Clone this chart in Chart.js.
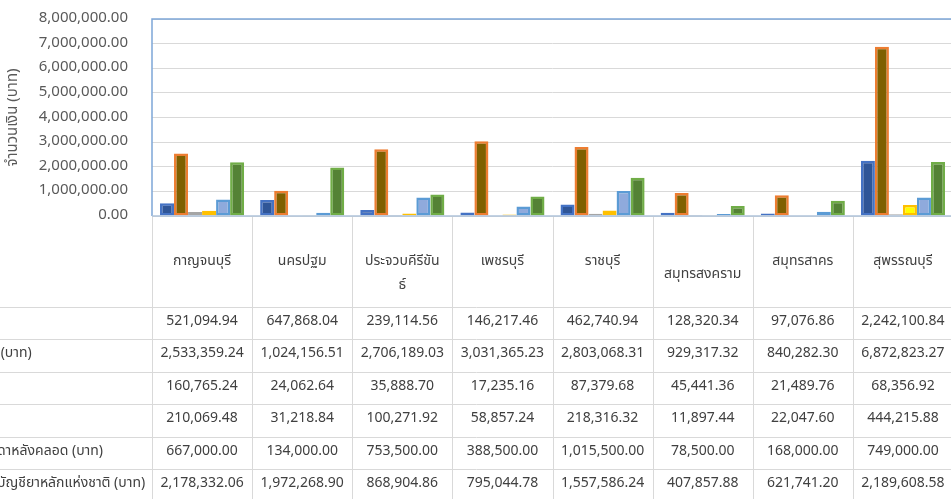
<!DOCTYPE html>
<html><head><meta charset="utf-8">
<script src="https://cdn.jsdelivr.net/npm/chart.js@4.4.1/dist/chart.umd.min.js"></script>
<style>
html,body{margin:0;padding:0;background:#fff;overflow:hidden;}
#wrap{width:951px;height:499px;overflow:hidden;position:relative;}
canvas{display:block;}
</style></head><body>
<div id="wrap"><canvas id="c" width="953" height="499"></canvas></div>
<script>
const categories = ['กาญจนบุรี','นครปฐม','ประจวบคีรีขันธ์','เพชรบุรี','ราชบุรี','สมุทรสงคราม','สมุทรสาคร','สุพรรณบุรี'];
const categoryLines = [['กาญจนบุรี'],['นครปฐม'],['ประจวบคีรีขัน','ธ์'],['เพชรบุรี'],['ราชบุรี'],['สมุทรสงคราม'],['สมุทรสาคร'],['สุพรรณบุรี']];
// visible (cropped) parts of the row labels
const seriesLabels = ['', ' (บาท)', '', '', 'ดาหลังคลอด (บาท)', 'บัญชียาหลักแห่งชาติ (บาท)'];
const series1 = [521094.94, 647868.04, 239114.56, 146217.46, 462740.94, 128320.34, 97076.86, 2242100.84];
const series2 = [2533359.24, 1024156.51, 2706189.03, 3031365.23, 2803068.31, 929317.32, 840282.30, 6872823.27];
const series3 = [160765.24, 24062.64, 35888.70, 17235.16, 87379.68, 45441.36, 21489.76, 68356.92];
const series4 = [210069.48, 31218.84, 100271.92, 58857.24, 218316.32, 11897.44, 22047.60, 444215.88];
const series5 = [667000.00, 134000.00, 753500.00, 388500.00, 1015500.00, 78500.00, 168000.00, 749000.00];
const series6 = [2178332.06, 1972268.90, 868904.86, 795044.78, 1557586.24, 407857.88, 621741.20, 2189608.58];
const yTicks = [0, 1000000, 2000000, 3000000, 4000000, 5000000, 6000000, 7000000, 8000000];
const axisTitle = 'จำนวนเงิน (บาท)';

const allSeries = [series1, series2, series3, series4, series5, series6];
const fills = ['#2F5597', '#7F6000', '#7F7F7F', '#FFFF00', '#8FAADC', '#548235'];
const borders = ['#4472C4', '#ED7D31', '#A5A5A5', '#FFC000', '#5B9BD5', '#70AD47'];
const FONT = 'Tahoma, "Noto Sans Thai", "Noto Sans", "DejaVu Sans", sans-serif';
const fmt = v => v.toLocaleString('en-US', {minimumFractionDigits: 2, maximumFractionDigits: 2});

const tablePlugin = {
  id: 'tablePlugin',
  afterDraw(chart) {
    const {ctx, chartArea} = chart;
    const xs = chart.scales.x;
    const catW = (chartArea.right - chartArea.left) / categories.length;
    const W = chart.width, H = chart.height;
    const headerBottom = 307;
    const rowH = 32.4;
    ctx.save();
    ctx.strokeStyle = '#D9D9D9';
    ctx.lineWidth = 1;
    for (let i = 0; i <= categories.length; i++) {
      const x = Math.round(chartArea.left + i * catW) + 0.5;
      ctx.beginPath(); ctx.moveTo(x, chartArea.bottom); ctx.lineTo(x, H); ctx.stroke();
    }
    for (let r = 0; r < allSeries.length; r++) {
      const y = Math.round(headerBottom + r * rowH) + 0.5;
      ctx.beginPath(); ctx.moveTo(0, y); ctx.lineTo(W, y); ctx.stroke();
    }
    ctx.strokeStyle = '#7EA6D8';
    ctx.lineWidth = 1.5;
    ctx.beginPath();
    ctx.moveTo(chartArea.left, chartArea.bottom);
    ctx.lineTo(chartArea.left, chartArea.top);
    ctx.lineTo(chartArea.right, chartArea.top);
    ctx.stroke();
    ctx.strokeStyle = '#AFC3DA';
    ctx.beginPath(); ctx.moveTo(chartArea.left, chartArea.bottom); ctx.lineTo(chartArea.right, chartArea.bottom); ctx.stroke();

    ctx.fillStyle = '#404040';
    ctx.font = '14px ' + FONT;
    ctx.textAlign = 'center';
    ctx.textBaseline = 'middle';
    const labelShift = [0, 0, 0, 0, 0, 13, 0, 0];
    categoryLines.forEach((lines, i) => {
      const cx = xs.getPixelForValue(i);
      lines.forEach((t, j) => ctx.fillText(t, cx, 262 + labelShift[i] + j * 24));
    });
    allSeries.forEach((s, r) => {
      const cy = headerBottom + r * rowH + rowH / 2 - 1;
      s.forEach((v, i) => ctx.fillText(fmt(v), xs.getPixelForValue(i), cy));
    });
    ctx.textAlign = 'left';
    seriesLabels.forEach((t, r) => {
      const cy = headerBottom + r * rowH + rowH / 2 - 1;
      ctx.fillText(t, -3, cy);
    });
    ctx.restore();
  }
};

new Chart(document.getElementById('c'), {
  type: 'bar',
  data: {
    labels: categories,
    datasets: allSeries.map((s, i) => ({
      label: seriesLabels[i],
      data: s,
      backgroundColor: fills[i],
      borderColor: borders[i],
      borderWidth: 2.5,
      borderSkipped: false,
      categoryPercentage: 0.84,
      barPercentage: 1.0
    }))
  },
  options: {
    responsive: false,
    animation: false,
    devicePixelRatio: 1,
    layout: {padding: {left: 0, top: 19, right: 0, bottom: 283}},
    plugins: {legend: {display: false}, tooltip: {enabled: false}},
    scales: {
      x: {display: false},
      y: {
        min: 0, max: 8000000,
        afterFit(scale) { scale.width = 152; scale.paddingTop = 0; scale.paddingBottom = 0; },
        afterBuildTicks(scale) { scale.ticks = yTicks.map(v => ({value: v})); },
        ticks: {
          padding: 24,
          color: '#595959',
          font: {family: FONT, size: 15},
          callback: v => fmt(v)
        },
        grid: {color: '#D9D9D9', lineWidth: 1, drawTicks: false},
        border: {display: false},
        title: {
          display: true, text: axisTitle, color: '#595959',
          font: {family: FONT, size: 15},
          padding: {top: 5, bottom: 0}
        }
      }
    }
  },
  plugins: [tablePlugin]
});
</script>
</body></html>
